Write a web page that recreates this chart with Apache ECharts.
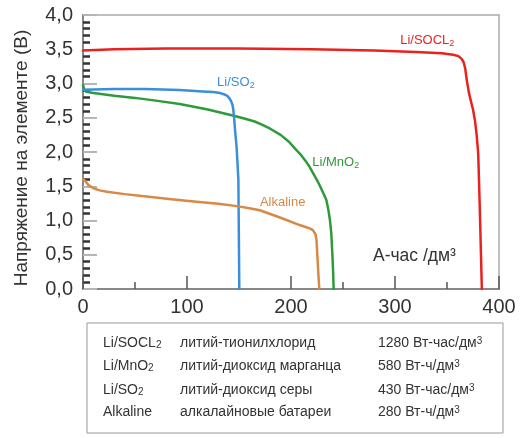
<!DOCTYPE html>
<html><head><meta charset="utf-8">
<script src="https://cdn.jsdelivr.net/npm/echarts@6/dist/echarts.min.js"></script>
<style>html,body{margin:0;padding:0;background:#fff}#c{width:525px;height:438px}</style>
</head><body><div id="c"></div>
<script>
// Li/SOCl2
var socl2X = [0, 30, 80, 150, 220, 280, 320, 345, 356, 361, 364, 366, 367.5, 369, 371, 373, 375, 377, 378.5, 380, 381.5, 383.5];
var socl2Y = [3.48, 3.50, 3.51, 3.51, 3.50, 3.48, 3.46, 3.44, 3.42, 3.40, 3.36, 3.31, 3.22, 3.05, 2.87, 2.74, 2.62, 2.45, 2.25, 1.98, 1.2, 0];
// Li/SO2
var so2X = [0, 30, 60, 93, 115, 125, 132, 136, 139, 141, 142.5, 143.7, 144.5, 145.3, 146.2, 147.8, 149.4, 150.3];
var so2Y = [2.91, 2.92, 2.92, 2.905, 2.885, 2.875, 2.86, 2.84, 2.815, 2.78, 2.74, 2.69, 2.62, 2.50, 2.32, 2.05, 1.6, 0];
// Li/MnO2
var mno2X = [0, 1, 3, 10, 30, 50, 70, 93, 120, 145, 155, 165, 172, 180, 190, 198, 205, 210, 214, 218, 222, 225, 228, 231, 234, 236, 237.5, 238.8, 239.8, 240.5, 241];
var mno2Y = [2.98, 2.92, 2.88, 2.86, 2.82, 2.79, 2.75, 2.70, 2.62, 2.53, 2.49, 2.445, 2.40, 2.34, 2.25, 2.15, 2.03, 1.95, 1.87, 1.78, 1.67, 1.59, 1.50, 1.40, 1.30, 1.15, 1.0, 0.8, 0.5, 0.25, 0];
// Alkaline
var alkX = [0, 2, 5, 10, 16, 23, 40, 61, 85, 109, 130, 148, 160, 170, 190, 209, 214, 218, 221, 223.5, 224.5, 225.3, 226.2, 227.2];
var alkY = [1.6, 1.58, 1.52, 1.47, 1.44, 1.42, 1.385, 1.35, 1.31, 1.275, 1.245, 1.21, 1.18, 1.15, 1.04, 0.93, 0.905, 0.885, 0.86, 0.80, 0.72, 0.5, 0.25, 0];

var yTicks = ['0,0','0,5','1,0','1,5','2,0','2,5','3,0','3,5','4,0'];
var xTicks = ['0','100','200','300','400'];

var tableNames = ['Li/SOCL', 'Li/MnO', 'Li/SO', 'Alkaline'];
var tableNameSubs = ['2', '2', '2', ''];
var tableDescs = ['литий-тионилхлорид', 'литий-диоксид марганца', 'литий-диоксид серы', 'алкалайновые батареи'];
var tableValues = ['1280 Вт-час/дм', '580 Вт-ч/дм', '430 Вт-час/дм', '280 Вт-ч/дм'];
var tableValueSups = ['3', '3', '3', '3'];

var curveLabels = ['Li/SOCL', 'Li/MnO', 'Li/SO', 'Alkaline'];
var curveLabelSubs = ['2', '2', '2', ''];
var curveLabelPos = [[331, 3.63], [243, 1.85], [147, 3.02], [192, 1.27]];
var xUnit = 'А-час /дм³';
var yTitle = 'Напряжение на элементе (В)';

function pairs(xs, ys) { return xs.map(function (x, i) { return [x, ys[i]]; }); }

var FONT = 'Liberation Sans, Arial, sans-serif';
var colors = ['#e8231f', '#2f9a3a', '#3a8fdb', '#d98845'];
var seriesData = [pairs(socl2X, socl2Y), pairs(mno2X, mno2Y), pairs(so2X, so2Y), pairs(alkX, alkY)];

var series = seriesData.map(function (d, i) {
  var sub = curveLabelSubs[i];
  return {
    type: 'line', data: d, showSymbol: false, symbol: 'none',
    smooth: false,
    lineStyle: { color: colors[i], width: 2.5, join: 'round', cap: 'round' },
    z: 3,
    markPoint: {
      symbol: 'circle', symbolSize: 0, silent: true,
      data: [{ coord: curveLabelPos[i] }],
      label: {
        show: true, position: 'inside',
        formatter: curveLabels[i] + (sub ? '{s|' + sub + '}' : ''),
        color: colors[i], fontSize: 13, fontFamily: FONT,
        lineHeight: 16,
        rich: { s: { fontSize: 9, color: colors[i], verticalAlign: 'bottom', lineHeight: 9, fontFamily: FONT } }
      }
    }
  };
});

var graphics = [];
var boxX = 87, boxY = 323, boxW = 416, boxH = 110;
graphics.push({ type: 'rect', shape: { x: boxX, y: boxY, width: boxW, height: boxH },
  style: { fill: 'none', stroke: '#999', lineWidth: 1 } });
var rowYs = [343, 366, 390, 412];
tableNames.forEach(function (n, i) {
  var t1 = n + (tableNameSubs[i] ? '{s|' + tableNameSubs[i] + '}' : '');
  graphics.push({ type: 'text', x: 103, y: rowYs[i], style: {
    text: t1, fill: '#333', font: '14px ' + FONT, verticalAlign: 'middle',
    rich: { s: { fontSize: 10, fill: '#333', verticalAlign: 'bottom', lineHeight: 10 } } } });
  graphics.push({ type: 'text', x: 180, y: rowYs[i], style: {
    text: tableDescs[i], fill: '#333', font: '14px ' + FONT, verticalAlign: 'middle' } });
  graphics.push({ type: 'text', x: 378, y: rowYs[i], style: {
    text: tableValues[i] + '{p|' + tableValueSups[i] + '}', fill: '#333', font: '14px ' + FONT, verticalAlign: 'middle',
    rich: { p: { fontSize: 10, fill: '#333', verticalAlign: 'top', lineHeight: 10 } } } });
});
graphics.push({ type: 'text', x: 373, y: 256, style: { text: xUnit, fill: '#333', font: '17.5px ' + FONT, verticalAlign: 'middle' } });

var chart = echarts.init(document.getElementById('c'));
chart.setOption({
  animation: false,
  backgroundColor: '#fff',
  grid: { left: 83, top: 15, right: 26, bottom: 149, show: true, borderColor: '#aaa', borderWidth: 1.5 },
  xAxis: {
    type: 'value', min: 0, max: 400, interval: 100,
    axisLine: { show: true, lineStyle: { color: '#888', width: 2 } },
    axisTick: { show: true, inside: true, length: 13, lineStyle: { color: '#555', width: 1.5 } },
    minorTick: { show: true, splitNumber: 2, length: 7, lineStyle: { color: '#555', width: 1.5 } },
    splitLine: { show: false },
    axisLabel: { margin: 8, color: '#333', fontSize: 20, fontFamily: FONT,
      formatter: function (v) { return xTicks[Math.round(v / 100)]; } }
  },
  yAxis: {
    type: 'value', min: 0, max: 4, interval: 0.5,
    name: yTitle, nameLocation: 'middle', nameGap: 52,
    nameTextStyle: { color: '#333', fontSize: 19, fontFamily: FONT, padding: [0, 0, 0, -12] },
    axisLine: { show: true, lineStyle: { color: '#888', width: 2 } },
    axisTick: { show: true, inside: true, length: 14, lineStyle: { color: '#b5b5b5', width: 2 } },
    minorTick: { show: true, splitNumber: 5, length: 7, lineStyle: { color: '#333', width: 2.5 } },
    splitLine: { show: false },
    axisLabel: { margin: 10, color: '#333', fontSize: 20, fontFamily: FONT,
      formatter: function (v) { return yTicks[Math.round(v * 2)]; } }
  },
  series: series,
  graphic: graphics
});
</script></body></html>
